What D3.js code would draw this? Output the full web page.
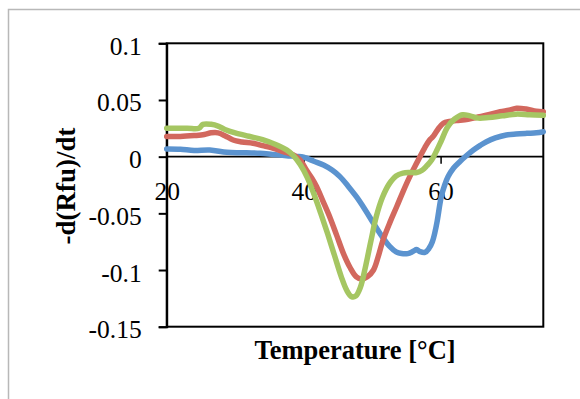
<!DOCTYPE html>
<html>
<head>
<meta charset="utf-8">
<script src="https://cdn.jsdelivr.net/npm/d3@7"></script>
<style>
  html, body { margin: 0; padding: 0; background: #fff; }
  svg { display: block; }
  text { font-family: "Liberation Serif", "Times New Roman", serif; fill: #000; }
</style>
</head>
<body>
<svg id="chart" width="580" height="399"></svg>
<script>
// ---- data ----
const xTicks = [20, 40, 60];
const yTicks = [0.1, 0.05, 0, -0.05, -0.1, -0.15];
const yTickLabels = ["0.1", "0.05", "0", "-0.05", "-0.1", "-0.15"];
const xTitle = "Temperature [°C]";
const yTitle = "-d(Rfu)/dt";

const blueTemp = [20, 22, 24, 26.3, 28.8, 31, 33.6, 35.5, 37.5, 39, 40, 41.5, 42.9, 44.2, 45.3, 46.5, 47.7, 49, 50.2, 51.4, 52.6, 53.5, 54.3, 55.2, 56, 56.5, 57.0, 57.7, 58.3, 58.8, 59.2, 59.5, 60.1, 60.6, 61.1, 61.9, 62.8, 63.8, 64.8, 65.8, 66.7, 68, 69.6, 71, 72.6, 74, 75];
const blueVal = [0.0068, 0.0066, 0.0055, 0.0059, 0.0038, 0.0035, 0.003, 0.002, 0.0009, 0.0002, -0.0005, -0.004, -0.0074, -0.012, -0.0176, -0.026, -0.0353, -0.047, -0.0588, -0.07, -0.0794, -0.084, -0.0855, -0.0855, -0.0835, -0.082, -0.0838, -0.0845, -0.081, -0.075, -0.066, -0.057, -0.0353, -0.025, -0.0176, -0.01, -0.0044, 0.001, 0.0059, 0.01, 0.0132, 0.0165, 0.0191, 0.02, 0.0206, 0.021, 0.022];

const redTemp = [20, 22, 24, 25.5, 26.5, 27.5, 28.5, 29.7, 31, 32.6, 34, 35.6, 37, 38.5, 39.5, 40.4, 41.2, 41.9, 42.8, 43.8, 44.8, 45.8, 46.8, 47.7, 48.5, 49.3, 50.2, 50.9, 51.6, 52.6, 53.6, 54.5, 55.5, 56.3, 57.0, 57.7, 58.4, 58.9, 59.6, 60.4, 61.3, 62.3, 64, 65.7, 67, 68.7, 70, 71.1, 72.5, 74, 75];
const redVal = [0.0177, 0.0178, 0.0186, 0.0195, 0.021, 0.021, 0.0185, 0.0147, 0.013, 0.0118, 0.0098, 0.0074, 0.0045, 0.0015, -0.003, -0.0118, -0.019, -0.0265, -0.039, -0.053, -0.069, -0.0853, -0.098, -0.106, -0.108, -0.106, -0.1, -0.088, -0.0735, -0.058, -0.044, -0.031, -0.0176, -0.008, 0, 0.008, 0.0147, 0.0177, 0.024, 0.0295, 0.031, 0.0318, 0.033, 0.0353, 0.037, 0.0397, 0.041, 0.0427, 0.042, 0.04, 0.0397];

const greenTemp = [20, 23, 24.7, 25.3, 26.5, 27.5, 28.5, 30, 32, 34, 36, 37.5, 38.5, 39.5, 40.5, 41.5, 42.5, 43.5, 44.5, 45.5, 46.3, 47.0, 47.6, 48.3, 49.0, 49.8, 50.6, 51.5, 52.5, 53.5, 54.5, 55.5, 56.5, 57.3, 58.0, 58.7, 59.4, 60.1, 61.0, 62.0, 63.2, 64.3, 65.5, 67, 69, 71, 73, 75];
const greenVal = [0.025, 0.025, 0.025, 0.0285, 0.0285, 0.027, 0.024, 0.021, 0.018, 0.015, 0.0105, 0.006, 0.001, -0.007, -0.018, -0.033, -0.05, -0.068, -0.087, -0.106, -0.118, -0.1235, -0.123, -0.115, -0.098, -0.075, -0.053, -0.036, -0.024, -0.017, -0.0145, -0.014, -0.014, -0.012, -0.008, -0.003, 0.005, 0.014, 0.026, 0.033, 0.037, 0.036, 0.034, 0.0345, 0.036, 0.0375, 0.037, 0.0365];

const seriesNames = ["blue", "red", "green"];
const seriesColors = ["#5b93cf", "#d2685e", "#a5c662"];
const seriesTemps = [blueTemp, redTemp, greenTemp];
const seriesVals = [blueVal, redVal, greenVal];

// ---- layout ----
const svg = d3.select("#chart");
const L = 166.7, R = 543.3, T = 43.3, B = 326.7;

const x = d3.scaleLinear().domain([20, 75]).range([L, R]);
const y = d3.scaleLinear().domain([-0.15, 0.1]).range([B, T]);

// outer chart border
svg.append("rect")
  .attr("x", 8.5).attr("y", 9.5).attr("width", 620).attr("height", 420)
  .attr("fill", "none").attr("stroke", "#b8b8b8").attr("stroke-width", 1.5);

// plot area frame
svg.append("rect")
  .attr("x", L).attr("y", T).attr("width", R - L).attr("height", B - T)
  .attr("fill", "none").attr("stroke", "#000").attr("stroke-width", 2);

// y axis
const yAxis = d3.axisLeft(y).tickValues(yTicks).tickSize(8).tickFormat((d, i) => yTickLabels[i]);
const gy = svg.append("g").attr("transform", `translate(${L},0)`).call(yAxis);
gy.select(".domain").attr("stroke", "#000").attr("stroke-width", 2);
gy.selectAll(".tick line").attr("stroke", "#000").attr("stroke-width", 2);
gy.selectAll(".tick text")
  .attr("x", -25).attr("dy", null).attr("y", 11)
  .attr("font-size", 25.5).attr("font-family", "Liberation Serif").attr("text-anchor", "end");

// x axis at y = 0
const xAxis = d3.axisBottom(x).tickValues(xTicks).tickSize(7).tickFormat(d3.format("d"));
const gx = svg.append("g").attr("transform", `translate(0,${y(0)})`).call(xAxis);
gx.select(".domain").remove();
gx.append("line").attr("x1", L).attr("x2", R).attr("y1", 0).attr("y2", 0)
  .attr("stroke", "#000").attr("stroke-width", 1.8);
gx.selectAll(".tick line").attr("stroke", "#000").attr("stroke-width", 1.5);
gx.selectAll(".tick text")
  .attr("y", 43).attr("dy", null)
  .attr("font-size", 25.5).attr("font-family", "Liberation Serif");

// lines
const line = d3.line().x(d => x(d[0])).y(d => y(d[1])).curve(d3.curveCatmullRom.alpha(0.5));
seriesNames.forEach((name, i) => {
  const pts = seriesTemps[i].map((t, j) => [t, seriesVals[i][j]]);
  svg.append("path").datum(pts)
    .attr("class", "series " + name)
    .attr("d", line)
    .attr("fill", "none")
    .attr("stroke", seriesColors[i])
    .attr("stroke-width", 5.5)
    .attr("stroke-linecap", "round")
    .attr("stroke-linejoin", "round");
});

// axis titles
svg.append("text")
  .attr("x", (L + R) / 2).attr("y", 359)
  .attr("text-anchor", "middle").attr("font-size", 26.5).attr("font-weight", "bold")
  .text(xTitle);

svg.append("text")
  .attr("transform", `translate(75,${(T + B) / 2 + 1}) rotate(-90)`)
  .attr("text-anchor", "middle").attr("font-size", 27).attr("font-weight", "bold")
  .text(yTitle);
</script>
</body>
</html>
